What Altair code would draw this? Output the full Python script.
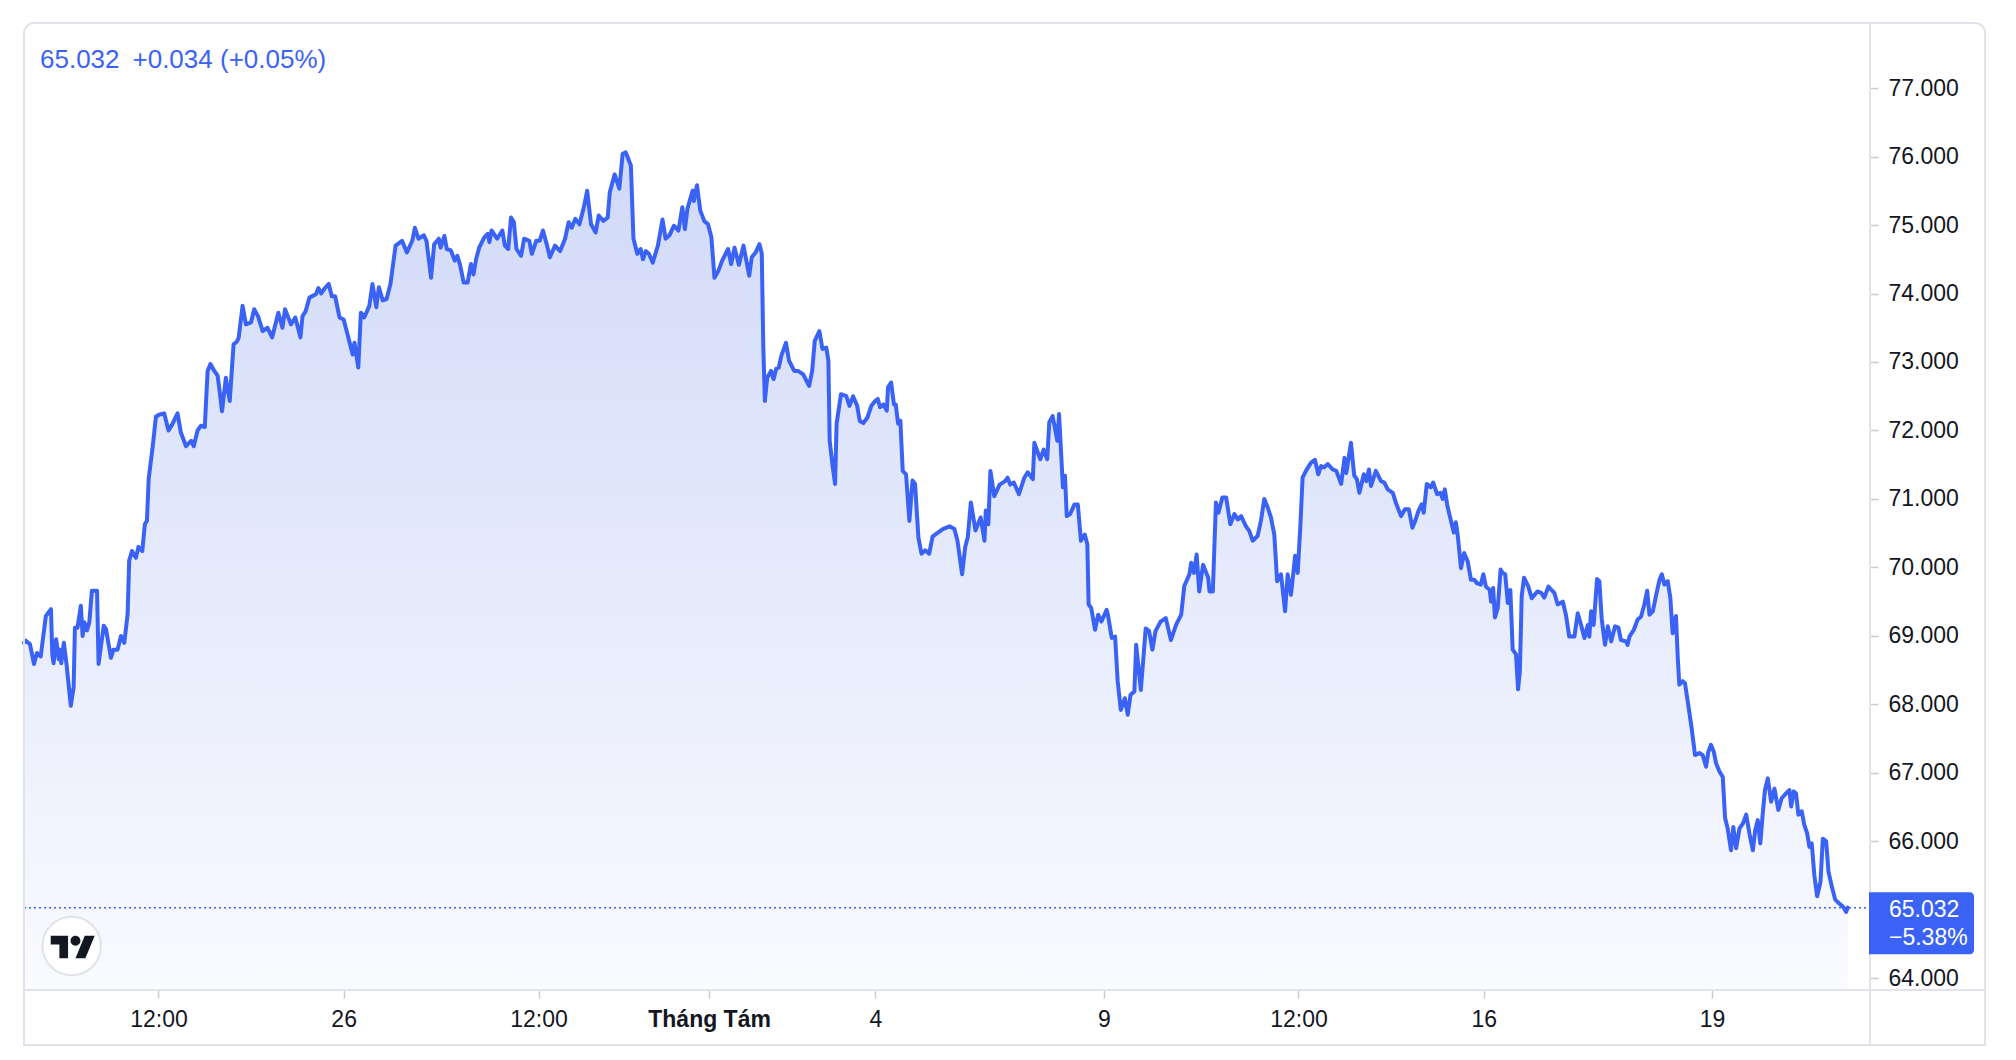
import altair as alt
import pandas as pd

# ---- data (bar index along the time axis, price) ----
BARS = [0.0, 0.7, 2.3, 3.9, 5.0, 6.5, 8.5, 10.5, 11.0, 11.5, 12.5, 13.5, 14.0, 14.5, 15.5, 16.5,
        18.2, 19.3, 19.8, 20.8, 22.1, 22.8, 23.5, 24.5, 25.4, 26.4, 28.4, 29.0, 31.0, 31.9, 33.8,
        34.8, 36.4, 37.7, 39.0, 40.3, 40.9, 42.0, 43.5, 44.5, 46.0, 47.0, 47.8, 48.5, 50.0, 51.3,
        52.5, 54.5, 56.2, 57.8, 59.7, 61.0, 63.0, 65.0, 66.0, 67.5, 68.8, 70.3, 71.4, 72.5, 74.0,
        75.3, 76.0, 77.0, 78.5, 80.0, 81.5, 82.8, 83.5, 85.0, 86.3, 88.3, 89.5, 91.0, 92.8, 94.7,
        96.5, 98.9, 100.5, 101.5, 103.8, 105.5, 107.5, 108.3, 109.5, 111.0, 113.5, 114.5, 115.5,
        117.0, 118.5, 119.7, 121.0, 122.7, 124.3, 125.5, 127.8, 128.5, 130.0, 131.0, 132.3, 134.3,
        135.5, 137.0, 138.0, 139.5, 141.0, 142.5, 144.5, 147.0, 148.9, 151.0, 152.0, 153.4, 155.5,
        156.5, 158.3, 159.5, 161.3, 162.0, 163.5, 164.4, 166.0, 167.5, 168.5, 169.5, 171.0, 172.5,
        173.8, 174.8, 175.8, 177.0, 179.0, 180.3, 181.0, 181.8, 184.0, 186.0, 187.0, 188.3, 189.4,
        190.5, 191.5, 193.3, 194.5, 196.5, 197.5, 199.2, 200.5, 201.8, 203.4, 204.5, 206.5, 208.5,
        210.4, 211.8, 213.0, 214.4, 216.0, 217.7, 219.0, 220.5, 222.3, 223.5, 225.3, 227.0, 227.8,
        229.7, 231.5, 232.8, 234.0, 236.0, 237.0, 238.5, 239.8, 240.7, 241.8, 243.0, 244.5, 246.5,
        248.3, 249.5, 251.0, 252.7, 254.5, 256.0, 257.0, 258.0, 260.0, 260.5, 261.7, 263.0, 264.5,
        266.0, 267.3, 268.5, 270.0, 271.5, 273.8, 275.0, 276.3, 278.0, 279.8, 282.0, 283.0, 284.5,
        286.0, 286.9, 287.5, 288.1, 289.0, 290.5, 291.5, 292.5, 293.5, 294.5, 296.3, 297.5, 299.5,
        301.0, 303.0, 305.3, 306.5, 307.5, 309.3, 310.5, 312.0, 312.8, 313.3, 314.5, 315.4, 316.0,
        317.7, 319.8, 321.0, 322.4, 324.0, 325.0, 326.4, 328.0, 329.5, 331.0, 332.0, 332.9, 334.2,
        335.5, 336.0, 337.2, 338.3, 339.0, 339.9, 340.8, 341.7, 343.0, 344.3, 345.5, 346.5, 347.8,
        349.0, 350.5, 352.0, 353.3, 354.7, 357.3, 359.9, 361.8, 363.0, 364.8, 366.0, 367.0, 368.2,
        370.0, 372.0, 373.5, 374.0, 375.0, 375.8, 377.3, 379.4, 381.5, 382.5, 383.5, 384.9, 386.9,
        389.0, 390.3, 392.3, 392.9, 395.2, 396.5, 397.9, 398.7, 400.0, 401.8, 402.5, 404.0, 404.8,
        405.5, 406.8, 408.5, 409.8, 411.0, 412.5, 413.5, 414.0, 415.0, 416.5, 417.7, 419.0, 421.0,
        421.5, 423.0, 424.3, 425.3, 426.5, 428.1, 429.2, 430.3, 431.8, 432.5, 434.3, 436.2, 437.5,
        438.8, 440.0, 442.0, 444.0, 446.0, 448.0, 450.0, 451.2, 453.2, 453.9, 455.0, 456.0, 457.0,
        458.5, 460.5, 461.0, 462.3, 463.5, 464.5, 466.0, 467.5, 469.1, 470.7, 472.0, 473.3, 475.2,
        476.5, 477.8, 479.7, 481.0, 482.3, 483.6, 484.9, 486.2, 487.3, 488.8, 490.4, 491.4, 492.7,
        494.3, 495.3, 496.3, 497.2, 498.5, 500.5, 502.0, 503.3, 504.4, 505.5, 507.0, 509.0, 510.3,
        512.2, 513.5, 514.2, 516.0, 517.3, 518.3, 519.3, 521.0, 522.0, 523.0, 523.8, 525.7, 527.7,
        529.0, 530.3, 532.3, 533.5, 535.5, 537.0, 538.5, 539.9, 541.0, 542.3, 543.5, 544.3, 545.5,
        547.0, 548.0, 549.5, 550.8, 551.7, 552.5, 553.5, 554.9, 556.0, 556.8, 557.5, 558.8, 560.0,
        561.4, 562.7, 564.0, 565.0, 566.5, 567.5, 568.5, 570.0, 570.5, 571.3, 572.0, 573.1, 574.2,
        575.0, 576.0, 577.0, 578.0, 578.9, 580.2, 581.0, 581.7, 582.4, 583.3, 585.0, 586.3, 588.5,
        590.0, 591.2, 592.8, 595.1, 596.4, 598.4, 599.6, 600.9, 602.9, 604.2, 605.5, 606.8, 608.1,
        608.7, 609.4, 610.4, 611.7, 612.6, 613.5, 614.8, 615.9, 617.2, 618.7, 620.0, 621.0, 623.0,
        623.6, 624.3, 626.0, 627.5, 628.8, 630.1, 631.2, 632.1, 633.4, 634.7, 636.0, 636.9, 637.9,
        639.2, 640.2, 641.1, 642.4, 643.1, 643.7, 645.0, 645.9, 647.0, 648.5, 649.8, 651.5, 652.8,
        654.1, 655.0, 656.0, 657.1, 658.0, 659.3, 660.6, 661.5, 662.5, 663.8, 664.7, 665.8, 667.1,
        668.4, 669.7, 671.0, 672.3, 673.2, 674.2, 675.2, 676.1, 677.0, 678.1, 679.4, 680.7, 682.2,
        683.5, 685.2, 686.5, 687.2, 688.2, 689.1, 690.0, 691.3, 692.3, 693.4, 694.3, 695.2, 696.2,
        697.3, 698.6, 699.5, 700.8, 701.7, 703.0, 704.3, 706.0, 707.3, 708.6, 709.2]

PRICES = [68.90, 68.93, 68.88, 68.59, 68.75, 68.70, 69.29, 69.39, 68.73, 68.60, 68.95, 68.66,
          68.80, 68.60, 68.90, 68.60, 67.98, 68.25, 69.12, 69.12, 69.44, 69.00, 69.20, 69.08,
          69.20, 69.66, 69.66, 68.59, 69.15, 69.10, 68.68, 68.80, 68.80, 69.00, 68.90, 69.32,
          70.10, 70.24, 70.14, 70.30, 70.24, 70.63, 70.68, 71.30, 71.75, 72.20, 72.23, 72.25,
          72.00, 72.10, 72.25, 71.97, 71.77, 71.85, 71.77, 72.00, 72.07, 72.05, 72.87, 72.97,
          72.87, 72.80, 72.60, 72.28, 72.77, 72.43, 73.26, 73.30, 73.36, 73.82, 73.55, 73.58,
          73.77, 73.67, 73.45, 73.50, 73.36, 73.72, 73.50, 73.77, 73.55, 73.65, 73.36, 73.67,
          73.74, 73.94, 73.99, 74.08, 74.00, 74.08, 74.14, 73.96, 73.96, 73.65, 73.62, 73.45,
          73.11, 73.28, 72.92, 73.72, 73.65, 73.82, 74.14, 73.80, 74.09, 73.90, 73.92, 74.14,
          74.70, 74.77, 74.60, 74.77, 74.96, 74.80, 74.85, 74.77, 74.23, 74.72, 74.80, 74.67,
          74.84, 74.65, 74.63, 74.48, 74.55, 74.43, 74.16, 74.16, 74.43, 74.28, 74.50, 74.67,
          74.82, 74.87, 74.75, 74.92, 74.80, 74.92, 74.70, 74.65, 75.11, 75.04, 74.65, 74.55,
          74.80, 74.77, 74.58, 74.77, 74.77, 74.92, 74.70, 74.53, 74.70, 74.62, 74.80, 75.04,
          74.96, 75.09, 75.01, 75.26, 75.50, 75.01, 74.89, 75.14, 75.06, 75.11, 75.48, 75.74,
          75.53, 76.04, 76.06, 75.87, 74.80, 74.58, 74.65, 74.50, 74.62, 74.58, 74.45, 74.70,
          75.08, 74.80, 74.85, 74.99, 74.92, 75.26, 74.94, 75.24, 75.50, 75.35, 75.58, 75.21,
          75.06, 75.01, 74.82, 74.23, 74.33, 74.48, 74.65, 74.43, 74.67, 74.42, 74.70, 74.26,
          74.53, 74.60, 74.72, 74.58, 73.21, 72.43, 72.77, 72.87, 72.75, 72.90, 72.92, 73.09,
          73.28, 73.02, 72.87, 72.87, 72.82, 72.65, 72.87, 73.31, 73.45, 73.19, 73.21, 73.02,
          71.85, 71.46, 71.22, 72.10, 72.53, 72.50, 72.36, 72.50, 72.36, 72.14, 72.11, 72.19,
          72.36, 72.43, 72.46, 72.34, 72.38, 72.29, 72.63, 72.70, 72.38, 72.38, 72.10, 72.14,
          71.41, 71.36, 70.68, 71.27, 71.22, 70.44, 70.20, 70.25, 70.20, 70.45, 70.49, 70.56,
          70.60, 70.56, 70.39, 69.90, 70.30, 70.44, 70.95, 70.54, 70.73, 70.39, 70.83, 70.63,
          71.41, 71.04, 71.21, 71.26, 71.31, 71.21, 71.24, 71.07, 71.31, 71.39, 71.29, 71.82,
          71.58, 71.72, 71.58, 72.12, 72.21, 71.85, 72.24, 71.17, 71.34, 70.75, 70.78, 70.92,
          70.92, 70.39, 70.48, 70.34, 69.46, 69.41, 69.09, 69.31, 69.21, 69.38, 69.31, 68.97,
          68.99, 68.34, 67.92, 68.09, 67.85, 68.14, 68.19, 68.87, 68.21, 69.11, 69.07, 68.80,
          69.07, 69.21, 69.26, 68.94, 69.16, 69.31, 69.73, 69.90, 70.07, 69.92, 70.19, 69.65,
          70.04, 69.85, 69.65, 69.65, 70.95, 70.80, 71.02, 71.02, 70.63, 70.78, 70.70, 70.75,
          70.60, 70.53, 70.39, 70.46, 70.68, 71.00, 70.88, 70.73, 70.48, 69.80, 69.90, 69.36,
          69.90, 69.60, 70.17, 69.92, 70.58, 71.31, 71.41, 71.53, 71.57, 71.36, 71.48, 71.46,
          71.51, 71.43, 71.41, 71.22, 71.60, 71.38, 71.82, 71.34, 71.29, 71.09, 71.36, 71.26,
          71.43, 71.19, 71.41, 71.26, 71.24, 71.14, 71.09, 70.94, 70.75, 70.85, 70.85, 70.58,
          70.68, 70.83, 70.92, 70.80, 71.22, 71.17, 71.24, 71.07, 71.09, 71.00, 71.14, 70.90,
          70.68, 70.51, 70.66, 70.48, 69.99, 70.21, 70.09, 69.82, 69.82, 69.77, 69.75, 69.90,
          69.72, 69.67, 69.50, 69.70, 69.27, 69.41, 69.97, 69.92, 69.90, 69.48, 69.67, 68.80,
          68.73, 68.22, 68.49, 69.58, 69.85, 69.72, 69.55, 69.65, 69.63, 69.56, 69.72, 69.63,
          69.46, 69.50, 69.31, 68.99, 68.99, 69.33, 69.16, 68.97, 69.16, 68.99, 69.36, 69.16,
          69.83, 69.80, 69.26, 68.87, 69.14, 68.92, 69.14, 69.12, 68.94, 68.92, 68.87, 68.99,
          69.09, 69.24, 69.28, 69.46, 69.66, 69.31, 69.36, 69.60, 69.82, 69.90, 69.75, 69.80,
          69.56, 69.04, 69.29, 68.68, 68.29, 68.34, 68.31, 68.04, 67.65, 67.26, 67.29, 67.26,
          67.09, 67.31, 67.41, 67.31, 67.14, 67.02, 66.94, 66.34, 66.19, 65.87, 66.21, 65.90,
          66.19, 66.26, 66.39, 66.11, 65.87, 66.16, 66.31, 65.97, 66.39, 66.75, 66.92, 66.58,
          66.77, 66.46, 66.63, 66.70, 66.75, 66.51, 66.73, 66.70, 66.39, 66.44, 66.24, 66.12,
          65.92, 65.97, 65.51, 65.20, 65.41, 66.04, 66.00, 65.56, 65.34, 65.15, 65.09, 65.05,
          64.97, 65.032]

X_TICKS = [52.3, 124.3, 200.1, 266.4, 331.1, 419.9, 495.6, 567.7, 656.4]
X_LABELS = ["12:00", "26", "12:00", "Tháng Tám", "4", "9", "12:00", "16", "19"]
BOLD_TICK = 266.4
Y_TICKS = [64, 66, 67, 68, 69, 70, 71, 72, 73, 74, 75, 76, 77]

LAST_PRICE = 65.032
HEADER_PRICE = ["65.032"]
HEADER_CHANGE = ["+0.034 (+0.05%)"]
BOX_PRICE = ["65.032"]
BOX_CHANGE = ["\u22125.38%"]

X_MAX = 717.85
Y_MIN, Y_MAX = 63.83, 77.95

# ---- styling ----
W, H = 1846, 967
FRAME_W, FRAME_H = 1961, 1022
FONT = "Liberation Sans"
BLUE = "#3a63f5"
GRID = "#e0e3eb"
TEXT = "#131722"
TICK = "#c9ccd3"

df = pd.DataFrame({"bar": BARS, "price": PRICES})
one = pd.DataFrame({"k": [0]})

label_expr = "''"
for v, lab in reversed(list(zip(X_TICKS, X_LABELS))):
    label_expr = f"datum.value == {v} ? '{lab}' : {label_expr}"

x_enc = alt.X(
    "bar:Q",
    scale=alt.Scale(domain=[0, X_MAX], nice=False, zero=False),
    axis=alt.Axis(
        values=X_TICKS, labelExpr=label_expr, title=None, grid=False, domain=False,
        tickSize=8, tickColor=TICK, tickWidth=1.5, labelFont=FONT, labelFontSize=23,
        labelColor=TEXT, labelPadding=10, labelOverlap=False, labelFlush=False,
        labelFontWeight={"condition": {"test": f"datum.value == {BOLD_TICK}", "value": "bold"},
                         "value": "normal"},
    ),
)
y_enc = alt.Y(
    "price:Q",
    scale=alt.Scale(domain=[Y_MIN, Y_MAX], nice=False, zero=False),
    axis=alt.Axis(
        orient="right", values=Y_TICKS, format=".3f", title=None, grid=False, domain=False,
        tickSize=8, tickColor=TICK, tickWidth=1.5, labelFont=FONT, labelFontSize=23,
        labelColor=TEXT, labelPadding=10, labelBaseline="middle",
    ),
)

gradient = alt.Gradient(
    gradient="linear",
    stops=[alt.GradientStop(color="#d0d9f8", offset=0),
           alt.GradientStop(color="#fafbff", offset=1)],
    x1=1, x2=1, y1=0, y2=1,
)

area = alt.Chart(df).mark_area(fill=gradient).encode(
    x=x_enc, y=y_enc, y2=alt.datum(Y_MIN)
)

price_line = alt.Chart(one).mark_rule(
    color=BLUE, strokeDash=[2, 3], strokeWidth=1.5
).encode(y=alt.datum(LAST_PRICE), x=alt.value(0), x2=alt.value(W))

line = alt.Chart(df).mark_line(
    color=BLUE, strokeWidth=4, strokeJoin="round", strokeCap="round"
).encode(x="bar:Q", y="price:Q")

frame = alt.Chart(one).mark_rect(
    filled=False, stroke=GRID, strokeWidth=2, cornerRadiusTopLeft=10, cornerRadiusTopRight=10
).encode(x=alt.value(0), x2=alt.value(FRAME_W), y=alt.value(0), y2=alt.value(FRAME_H))

separator = alt.Chart(one).mark_rule(color=GRID, strokeWidth=2).encode(
    x=alt.value(W), y=alt.value(0), y2=alt.value(FRAME_H)
)
bottom_rule = alt.Chart(one).mark_rule(color=GRID, strokeWidth=2).encode(
    y=alt.value(H), x=alt.value(0), x2=alt.value(FRAME_W)
)

header_price = alt.Chart(pd.DataFrame({"t": HEADER_PRICE})).mark_text(
    align="left", baseline="middle", font=FONT, fontSize=26, color=BLUE
).encode(x=alt.value(16), y=alt.value(37), text="t:N")
header_change = alt.Chart(pd.DataFrame({"t": HEADER_CHANGE})).mark_text(
    align="left", baseline="middle", font=FONT, fontSize=26, color=BLUE
).encode(x=alt.value(108.5), y=alt.value(37), text="t:N")

box = alt.Chart(one).mark_rect(
    color=BLUE, yOffset=-15.5, y2Offset=46.5, cornerRadiusTopRight=4, cornerRadiusBottomRight=4
).encode(x=alt.value(1845), x2=alt.value(1950), y=alt.datum(LAST_PRICE), y2=alt.datum(LAST_PRICE))

box_price = alt.Chart(pd.DataFrame({"t": BOX_PRICE})).mark_text(
    align="left", baseline="middle", font=FONT, fontSize=23, color="white", dy=2.5
).encode(x=alt.value(1865), y=alt.datum(LAST_PRICE), text="t:N")
box_change = alt.Chart(pd.DataFrame({"t": BOX_CHANGE})).mark_text(
    align="left", baseline="middle", font=FONT, fontSize=23, color="white", dy=30
).encode(x=alt.value(1865), y=alt.datum(LAST_PRICE), text="t:N")

logo_circle = alt.Chart(one).mark_point(
    shape="circle", size=3421, filled=True, fill="white", stroke=GRID, strokeWidth=2,
    opacity=1, fillOpacity=1, strokeOpacity=1
).encode(x=alt.value(47.7), y=alt.value(923))

LOGO_PATH = ("M -0.208 0.5 L -0.597 0.5 L -0.597 -0.111 L -0.986 -0.111 L -0.986 -0.5 "
             "L -0.208 -0.5 Z "
             "M 0.569 0.5 L 0.125 0.5 L 0.542 -0.5 L 0.986 -0.5 Z "
             "M 0.347 -0.278 A 0.222 0.222 0 1 1 -0.097 -0.278 "
             "A 0.222 0.222 0 1 1 0.347 -0.278 Z")
logo_glyph = alt.Chart(one).mark_point(
    shape=LOGO_PATH, size=1990, filled=True, fill=TEXT, strokeWidth=0, opacity=1, fillOpacity=1
).encode(x=alt.value(48.7), y=alt.value(924))

chart = alt.layer(
    area, price_line, line, frame, separator, bottom_rule,
    logo_circle, logo_glyph, header_price, header_change, box, box_price, box_change
).properties(
    width=W, height=H,
    padding={"left": 14, "top": 14, "right": 0, "bottom": 0},
    background="white",
).configure_view(stroke="transparent")

chart.save("out.html", embed_options={"renderer": "svg", "actions": False})
